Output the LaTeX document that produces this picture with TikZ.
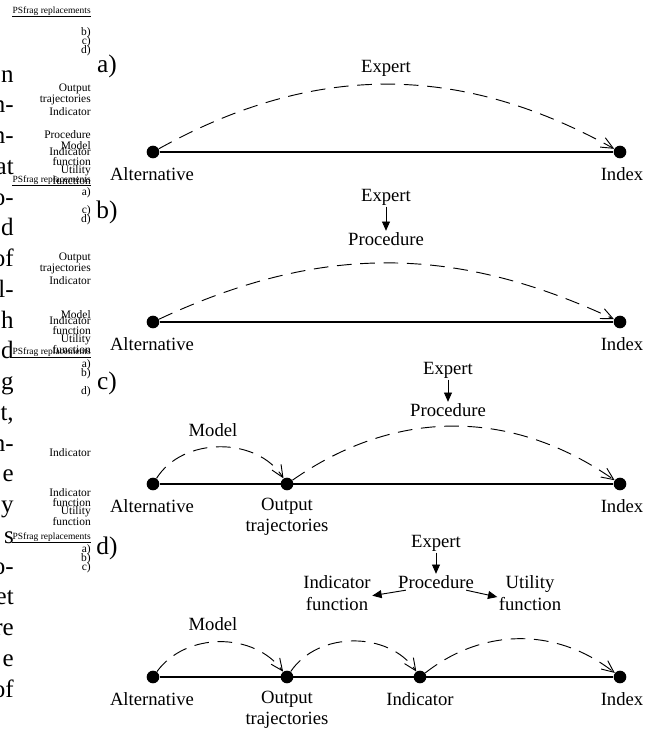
\documentclass[tikz,border=0pt]{standalone}
\usepackage{fontspec}
\setmainfont{Liberation Serif}
\usetikzlibrary{arrows.meta,calc}
\begin{document}
\begin{tikzpicture}[x=0.75pt,y=-0.75pt,
  lbl/.style={font=\fontsize{14}{16}\selectfont, inner sep=1pt, align=center},
  bodytxt/.style={font=\fontsize{18.75}{22}\selectfont, inner sep=0pt, anchor=base east},
  res/.style={font=\fontsize{8.6}{9}\selectfont, inner sep=0pt, anchor=base east},
  hdr/.style={font=\fontsize{7.1}{8}\selectfont, inner sep=0pt, anchor=base east},
  part/.style={font=\fontsize{19}{22}\selectfont, inner sep=0pt},
  dot/.style={circle, fill=black, inner sep=0pt, minimum size=9.5pt},
  axisline/.style={line width=1.9pt},
  flow/.style={dash pattern=on 11pt off 6.5pt, line width=0.7pt, -{Straight Barb[length=9pt,width=8pt,line width=0.7pt]}},
  sarrow/.style={line width=0.7pt, -{Triangle[length=7pt,width=6pt]}}]
\useasboundingbox (0,0) rectangle (656,733);

% ---- clipped body text on the left
\foreach \t [count=\k] in {n,n-,n-,at,o-,d,of,l-,h,d,g,{t,},n-,e,y,s,o-,et,re,e,of}
  \node[bodytxt] (L\k) at (14,{82+(\k-1)*30.75}) {\t};

% ---- PSfrag residue blocks
\node[hdr] (h1) at (91,13) {PSfrag replacements};
\node[hdr] (h2) at (91,182) {PSfrag replacements};
\node[hdr] (h3) at (91,354) {PSfrag replacements};
\node[hdr] (h4) at (91,539) {PSfrag replacements};
\foreach \h in {h1,h2,h3,h4}
  \draw[line width=0.6pt] ([yshift=-2.3pt]\h.base west) -- ([yshift=-2.3pt]\h.base east);

\foreach \t/\y [count=\k] in {b)/35.5, c)/44.5, d)/53.5, Output/91, trajectories/102, Indicator/115,
  Procedure/138, Model/149, Indicator/155.5, function/165, Utility/173, function/184}
  \node[res] (ra\k) at (91,\y) {\t};
\foreach \t/\y [count=\k] in {a)/195, c)/213.5, d)/222.5, Output/260, trajectories/271, Indicator/284,
  Model/318, Indicator/324.5, function/334, Utility/342, function/353}
  \node[res] (rb\k) at (91,\y) {\t};
\foreach \t/\y [count=\k] in {a)/367, b)/376.5, d)/394.5, Indicator/456, Indicator/496.5,
  function/506, Utility/514, function/525}
  \node[res] (rc\k) at (91,\y) {\t};
\foreach \t/\y [count=\k] in {a)/552, b)/561.5, c)/570.5}
  \node[res] (rd\k) at (91,\y) {\t};

% ---- part a
\node[part] (pa) at (107,66) {a)};
\node[lbl] (e1) at (386,68) {Expert};
\node[dot] (A1) at (153,152) {};
\node[dot] (I1) at (620,152) {};
\node[lbl] (la1) at (152,174) {Alternative};
\node[lbl] (li1) at (622,174) {Index};
\draw[axisline] (A1) -- (I1);
\draw[flow] (A1) to[bend left=29] (I1);

% ---- part b
\node[part] (pb) at (107,212) {b)};
\node[lbl] (e2) at (386,197) {Expert};
\node[lbl] (p2) at (386,239) {Procedure};
\draw[sarrow] (e2) -- (p2);
\node[dot] (A2) at (153,322) {};
\node[dot] (I2) at (620,322) {};
\node[lbl] (la2) at (152,344) {Alternative};
\node[lbl] (li2) at (622,344) {Index};
\draw[axisline] (A2) -- (I2);
\draw[flow] (A2) to[bend left=25] (I2);

% ---- part c
\node[part] (pc) at (107,383) {c)};
\node[lbl] (e3) at (448,370) {Expert};
\node[lbl] (p3) at (448,410) {Procedure};
\draw[sarrow] (e3) -- (p3);
\node[lbl] (m3) at (213,430) {Model};
\node[dot] (A3) at (153,484) {};
\node[dot] (O3) at (287,484) {};
\node[dot] (I3) at (620,484) {};
\node[lbl] (la3) at (152,506) {Alternative};
\node[lbl] (lo3) at (287,517) {Output\\trajectories};
\node[lbl] (li3) at (622,506) {Index};
\draw[axisline] (A3) -- (I3);
\draw[flow] (A3) to[bend left=58] (O3);
\draw[flow] (O3) to[bend left=35] (I3);

% ---- part d
\node[part] (pd) at (107,548) {d)};
\node[lbl] (e4) at (436,543) {Expert};
\node[lbl] (p4) at (436,582) {Procedure};
\node[lbl] (if4) at (337,593) {Indicator\\function};
\node[lbl] (uf4) at (530,593) {Utility\\function};
\draw[sarrow] (e4) -- (p4);
\draw[sarrow] ([xshift=7pt]p4.south west) -- ([yshift=-2pt]if4.east);
\draw[sarrow] ([xshift=-7pt]p4.south east) -- ([yshift=-3pt]uf4.west);
\node[lbl] (m4) at (213,624) {Model};
\node[dot] (A4) at (153,677) {};
\node[dot] (O4) at (287,677) {};
\node[dot] (N4) at (420,677) {};
\node[dot] (I4) at (620,677) {};
\node[lbl] (la4) at (152,699) {Alternative};
\node[lbl] (lo4) at (287,710) {Output\\trajectories};
\node[lbl] (ln4) at (420,699) {Indicator};
\node[lbl] (li4) at (622,699) {Index};
\draw[axisline] (A4) -- (I4);
\draw[flow] (A4) to[bend left=54] (O4);
\draw[flow] (O4) to[bend left=56] (N4);
\draw[flow] (N4) to[bend left=38] (I4);
\end{tikzpicture}
\end{document}
